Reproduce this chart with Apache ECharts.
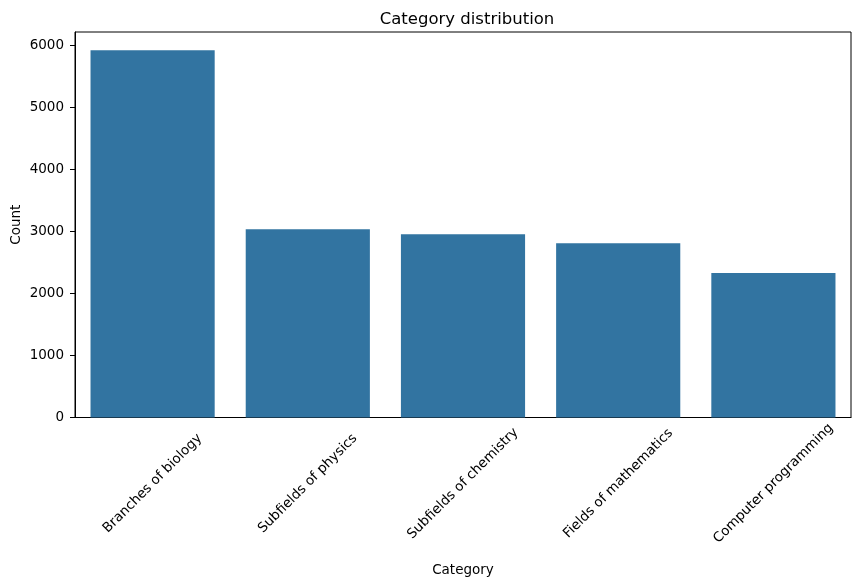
<!DOCTYPE html>
<html>
<head>
<meta charset="utf-8">
<script src="https://cdn.jsdelivr.net/npm/echarts@6/dist/echarts.min.js"></script>
<style>html,body{margin:0;padding:0;background:#fff}#c{width:859px;height:585px}</style>
</head>
<body>
<div id="c"></div>
<script>
const categories = ["Branches of biology", "Subfields of physics", "Subfields of chemistry", "Fields of mathematics", "Computer programming"];
const counts = [5920, 3036, 2956, 2811, 2328];
const yTicks = [0, 1000, 2000, 3000, 4000, 5000, 6000];

const chart = echarts.init(document.getElementById('c'), null, {renderer: 'canvas'});
const font = 'DejaVu Sans';
chart.setOption({
  animation: false,
  backgroundColor: '#ffffff',
  title: {
    text: 'Category distribution',
    left: 462, top: 6, textAlign: 'center',
    textStyle: {fontFamily: font, fontSize: 16.5, fontWeight: 'normal', color: '#000'}
  },
  grid: {left: 75, right: 8, top: 32, bottom: 167.5, containLabel: false, outerBoundsMode: 'none',
         show: true, borderColor: '#000', borderWidth: 1, backgroundColor: 'transparent'},
  xAxis: {
    type: 'category',
    data: categories,
    boundaryGap: true,
    name: 'Category',
    nameLocation: 'middle',
    nameGap: 146,
    nameMoveOverlap: false,
    nameTextStyle: {fontFamily: font, fontSize: 13.5, color: '#000'},
    axisLine: {lineStyle: {color: '#000', width: 1}},
    axisTick: {alignWithLabel: true, length: 5, lineStyle: {color: '#000'}},
    axisLabel: {
      interval: 0, rotate: 45, align: 'center', verticalAlign: 'middle', margin: 66,
      fontFamily: font, fontSize: 13.5, color: '#000'
    },
    splitLine: {show: false}
  },
  yAxis: {
    type: 'value',
    min: 0, max: 6216, interval: 1000,
    name: 'Count',
    nameLocation: 'middle',
    nameGap: 52,
    nameMoveOverlap: false,
    nameTextStyle: {fontFamily: font, fontSize: 13.5, color: '#000'},
    axisLine: {show: true, lineStyle: {color: '#000', width: 1}},
    axisTick: {show: true, length: 5, lineStyle: {color: '#000'}},
    axisLabel: {
      fontFamily: font, fontSize: 13.5, color: '#000', margin: 11, showMaxLabel: false,
      formatter: v => (yTicks.indexOf(v) >= 0 ? String(v) : '')
    },
    splitLine: {show: false}
  },
  series: [{
    type: 'bar',
    data: counts,
    barCategoryGap: '20%',
    itemStyle: {color: '#3274a1'}
  }]
});
</script>
</body>
</html>
